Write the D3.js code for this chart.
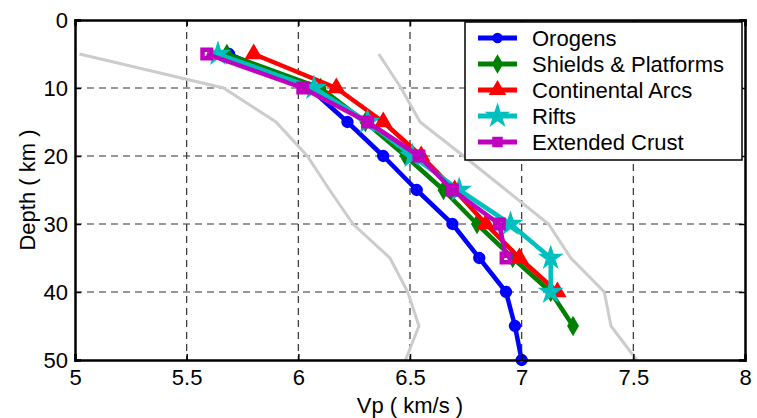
<!DOCTYPE html>
<html>
<head>
<meta charset="utf-8">
<script src="https://cdn.jsdelivr.net/npm/d3@7"></script>
<style>
  body { margin: 0; background: #fff; }
  svg { display: block; font-family: "Liberation Sans", Arial, sans-serif; }
</style>
</head>
<body>
<div id="chart"></div>
<script>
// depths (km) shared by every profile
const depths = [5, 10, 15, 20, 25, 30, 35, 40, 45, 50];

// Vp (km/s) per province
const orogens = [5.69, 6.05, 6.22, 6.38, 6.53, 6.69, 6.81, 6.93, 6.97, 7.0];
const shields = [5.68, 6.10, 6.30, 6.48, 6.65, 6.80, 6.96, 7.13, 7.23];
const arcs = [5.80, 6.17, 6.38, 6.55, 6.70, 6.84, 6.99, 7.16];
const rifts = [5.64, 6.07, 6.31, 6.51, 6.72, 6.95, 7.13, 7.13];
const extended = [5.59, 6.02, 6.31, 6.54, 6.69, 6.90, 6.93];

// grey bounding curves
const lowerBound = [5.02, 5.665, 5.90, 6.04, 6.14, 6.245, 6.41, 6.49, 6.54, 6.48];
const upperBound = [6.36, 6.46, 6.545, 6.74, 6.93, 7.12, 7.22, 7.37, 7.40, 7.515];

const seriesNames = ["Orogens", "Shields & Platforms", "Continental Arcs", "Rifts", "Extended Crust"];
const seriesValues = [orogens, shields, arcs, rifts, extended];
const seriesColors = ["#0000ff", "#008000", "#ff0000", "#00bfbf", "#bf00bf"];
const seriesMarkers = ["circle", "diamond", "triangle", "star", "square"];

const xTicks = [5, 5.5, 6, 6.5, 7, 7.5, 8];
const yTicks = [0, 10, 20, 30, 40, 50];

const full_width = 757, full_height = 418;
const margin = {top: 20, right: 12, bottom: 58, left: 75};
const width = full_width - margin.left - margin.right;
const height = full_height - margin.top - margin.bottom;
const fontSize = 22;

const svg = d3.select('#chart').append('svg')
  .attr('width', full_width)
  .attr('height', full_height);

const g = svg.append('g')
  .attr('transform', 'translate(' + margin.left + ',' + margin.top + ')');

const x = d3.scaleLinear().domain([5, 8]).range([0, width]);
const y = d3.scaleLinear().domain([0, 50]).range([0, height]);

// dashed grid
const grid = g.append('g');
grid.selectAll('.gx')
  .data(xTicks.slice(1, -1))
  .enter().append('line')
    .attr('x1', d => x(d)).attr('x2', d => x(d))
    .attr('y1', 0).attr('y2', height)
    .attr('stroke', '#333').attr('stroke-width', 1.2)
    .attr('stroke-dasharray', '7,5');
grid.selectAll('.gy')
  .data(yTicks.slice(1, -1))
  .enter().append('line')
    .attr('y1', d => y(d)).attr('y2', d => y(d))
    .attr('x1', 0).attr('x2', width)
    .attr('stroke', '#333').attr('stroke-width', 1.2)
    .attr('stroke-dasharray', '7,5');

const line = d3.line()
  .x(d => x(d[0]))
  .y(d => y(d[1]));

// grey bounds
[lowerBound, upperBound].forEach(vals => {
  g.append('path')
    .datum(vals.map((v, i) => [v, depths[i]]))
    .attr('d', line)
    .attr('fill', 'none')
    .attr('stroke', '#cccccc')
    .attr('stroke-width', 3);
});

// marker shapes; open ones get a heavy stroke like the original
const markerStyle = {
  circle: {sym: d3.symbol().type(d3.symbolCircle).size(55), fill: false, sw: 4},
  diamond: {sym: d3.symbol().type(d3.symbolDiamond).size(70), fill: true, sw: 2.5},
  triangle: {sym: d3.symbol().type(d3.symbolTriangle).size(85), fill: true, sw: 2.5},
  star: {sym: d3.symbol().type(d3.symbolStar).size(120), fill: true, sw: 2},
  square: {sym: d3.symbol().type(d3.symbolSquare).size(72), fill: false, sw: 4.5}
};

seriesValues.forEach((vals, k) => {
  const pts = vals.map((v, i) => [v, depths[i]]);
  const ms = markerStyle[seriesMarkers[k]];
  const sg = g.append('g');
  sg.append('path')
    .datum(pts)
    .attr('d', line)
    .attr('fill', 'none')
    .attr('stroke', seriesColors[k])
    .attr('stroke-width', 4.5)
    .attr('stroke-linejoin', 'round');
  sg.selectAll('path.mk')
    .data(pts)
    .enter().append('path')
      .attr('class', 'mk')
      .attr('d', ms.sym)
      .attr('transform', d => 'translate(' + x(d[0]) + ',' + y(d[1]) + ')')
      .attr('fill', ms.fill ? seriesColors[k] : 'none')
      .attr('stroke', seriesColors[k])
      .attr('stroke-width', ms.sw)
      .attr('stroke-linejoin', 'miter');
});

// axes box with inward ticks
const xAxis = d3.axisBottom(x).tickValues(xTicks).tickSize(-6).tickPadding(9).tickFormat(d3.format('~g'));
const yAxis = d3.axisLeft(y).tickValues(yTicks).tickSize(-6).tickPadding(7);

const xa = g.append('g').attr('transform', 'translate(0,' + height + ')').call(xAxis);
const ya = g.append('g').call(yAxis);
const xt = g.append('g').call(d3.axisTop(x).tickValues(xTicks).tickSize(-6).tickFormat(''));
const yr = g.append('g').attr('transform', 'translate(' + width + ',0)')
  .call(d3.axisRight(y).tickValues(yTicks).tickSize(-6).tickFormat(''));

[xa, ya, xt, yr].forEach(a => {
  a.select('.domain').attr('stroke', '#000').attr('stroke-width', 2.5);
  a.selectAll('.tick line').attr('stroke', '#000').attr('stroke-width', 1.5);
  a.selectAll('text').attr('font-size', fontSize).attr('fill', '#000')
    .attr('font-family', '"Liberation Sans", Arial, sans-serif');
});

// axis titles
svg.append('text')
  .attr('x', margin.left + width / 2)
  .attr('y', 413)
  .attr('text-anchor', 'middle')
  .attr('font-size', fontSize)
  .text('Vp ( km/s )');

svg.append('text')
  .attr('transform', 'translate(35,' + (margin.top + height / 2) + ') rotate(-90)')
  .attr('text-anchor', 'middle')
  .attr('font-size', fontSize)
  .text('Depth ( km )');

// legend
const legend = svg.append('g').attr('transform', 'translate(465,22)');
legend.append('rect')
  .attr('width', 277).attr('height', 138)
  .attr('fill', '#fff').attr('stroke', '#000').attr('stroke-width', 1.5);

seriesNames.forEach((name, k) => {
  const ly = 16 + k * 26;
  const ms = markerStyle[seriesMarkers[k]];
  legend.append('line')
    .attr('x1', 13).attr('x2', 52)
    .attr('y1', ly).attr('y2', ly)
    .attr('stroke', seriesColors[k]).attr('stroke-width', 5);
  legend.append('path')
    .attr('d', ms.sym)
    .attr('transform', 'translate(32.5,' + ly + ')')
    .attr('fill', seriesColors[k])
    .attr('stroke', seriesColors[k])
    .attr('stroke-width', 2);
  legend.append('text')
    .attr('x', 67).attr('y', ly + 8)
    .attr('font-size', fontSize)
    .text(name);
});
</script>
</body>
</html>
